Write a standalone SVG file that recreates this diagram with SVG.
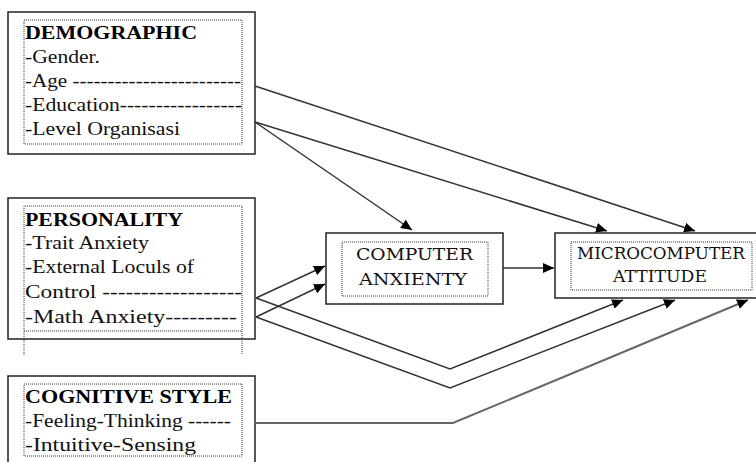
<svg xmlns="http://www.w3.org/2000/svg" width="756" height="462" viewBox="0 0 756 462">
  <style>
    .outer { fill: #fff; stroke: #222; stroke-width: 1.5; }
    .inner { fill: none; stroke: #333; stroke-width: 1; stroke-dasharray: 1 1; }
    .title { font-family: "Liberation Serif", "Times New Roman", serif; font-size: 19px; font-weight: bold; fill: #000; }
    .item { font-family: "Liberation Serif", "Times New Roman", serif; font-size: 18px; fill: #111; }
    .label { font-family: "DejaVu Serif", "Liberation Serif", serif; font-size: 17px; fill: #111; }
    .conn { fill: none; stroke: #333; stroke-width: 1.5; }
    .conn-grey { fill: none; stroke: #666; stroke-width: 2; }
  </style>
  <defs>
    <marker id="arrow" markerUnits="userSpaceOnUse" markerWidth="12" markerHeight="10" refX="11" refY="5" orient="auto">
      <path d="M0,0 L11,5 L0,10 z" fill="#000"/>
    </marker>
  </defs>

  <!-- Demographic factors -->
  <g id="demographic">
    <rect class="outer" x="8" y="12" width="247" height="142"/>
    <rect class="inner" x="24" y="20" width="218" height="124"/>
    <text class="title" x="25" y="39" textLength="172" lengthAdjust="spacingAndGlyphs">DEMOGRAPHIC</text>
    <text class="item" x="25" y="63" textLength="75" lengthAdjust="spacingAndGlyphs">-Gender.</text>
    <text class="item" x="25" y="87" textLength="216" lengthAdjust="spacingAndGlyphs">-Age ------------------------</text>
    <text class="item" x="25" y="111" textLength="217" lengthAdjust="spacingAndGlyphs">-Education-----------------</text>
    <text class="item" x="25" y="135" textLength="155" lengthAdjust="spacingAndGlyphs">-Level Organisasi</text>
  </g>

  <!-- Personality factors -->
  <g id="personality">
    <rect class="outer" x="8" y="198" width="247" height="141"/>
    <path class="inner" d="M24,355 V206 H242 V355 M24,331 H242"/>
    <text class="title" x="25" y="226" textLength="158" lengthAdjust="spacingAndGlyphs">PERSONALITY</text>
    <text class="item" x="25" y="249" textLength="124" lengthAdjust="spacingAndGlyphs">-Trait Anxiety</text>
    <text class="item" x="25" y="273" textLength="169" lengthAdjust="spacingAndGlyphs">-External Loculs of</text>
    <text class="item" x="25" y="298" textLength="217" lengthAdjust="spacingAndGlyphs">Control ------------------</text>
    <text class="item" x="25" y="323" textLength="212" lengthAdjust="spacingAndGlyphs">-Math Anxiety---------</text>
  </g>

  <!-- Cognitive style factors -->
  <g id="cognitive-style">
    <rect class="outer" x="8" y="376" width="247" height="100"/>
    <rect class="inner" x="24" y="384" width="218" height="72"/>
    <text class="title" x="25" y="403" textLength="207" lengthAdjust="spacingAndGlyphs">COGNITIVE STYLE</text>
    <text class="item" x="25" y="427" textLength="206" lengthAdjust="spacingAndGlyphs">-Feeling-Thinking ------</text>
    <text class="item" x="25" y="451" textLength="171" lengthAdjust="spacingAndGlyphs">-Intuitive-Sensing</text>
  </g>

  <!-- Computer anxiety -->
  <g id="computer-anxiety">
    <rect class="outer" x="326" y="233" width="177" height="71"/>
    <rect class="inner" x="342" y="242" width="146" height="54"/>
    <text class="label" x="356" y="260" textLength="117" lengthAdjust="spacingAndGlyphs">COMPUTER</text>
    <text class="label" x="359" y="285" textLength="108" lengthAdjust="spacingAndGlyphs">ANXIENTY</text>
  </g>

  <!-- Microcomputer attitude -->
  <g id="microcomputer-attitude">
    <rect class="outer" x="555" y="233" width="210" height="65"/>
    <rect class="inner" x="571" y="242" width="181" height="48"/>
    <text class="label" x="577" y="259" textLength="168" lengthAdjust="spacingAndGlyphs">MICROCOMPUTER</text>
    <text class="label" x="613" y="282" textLength="94" lengthAdjust="spacingAndGlyphs">ATTITUDE</text>
  </g>

  <!-- Connectors -->
  <g id="connectors">
    <line class="conn" x1="255" y1="86" x2="695" y2="231" marker-end="url(#arrow)"/>
    <line class="conn" x1="255" y1="122" x2="607" y2="231" marker-end="url(#arrow)"/>
    <line class="conn" x1="255" y1="122" x2="412" y2="230" marker-end="url(#arrow)"/>
    <line class="conn" x1="503" y1="268" x2="554" y2="268" marker-end="url(#arrow)"/>
    <line class="conn" x1="256" y1="298" x2="325" y2="266" marker-end="url(#arrow)"/>
    <line class="conn" x1="256" y1="317" x2="325" y2="284" marker-end="url(#arrow)"/>
    <polyline class="conn" points="256,298 450,369 623,300" marker-end="url(#arrow)"/>
    <polyline class="conn" points="256,317 450,388 675,300" marker-end="url(#arrow)"/>
    <polyline class="conn-grey" points="255,423 453,423 748,300" marker-end="url(#arrow)"/>
  </g>
</svg>
